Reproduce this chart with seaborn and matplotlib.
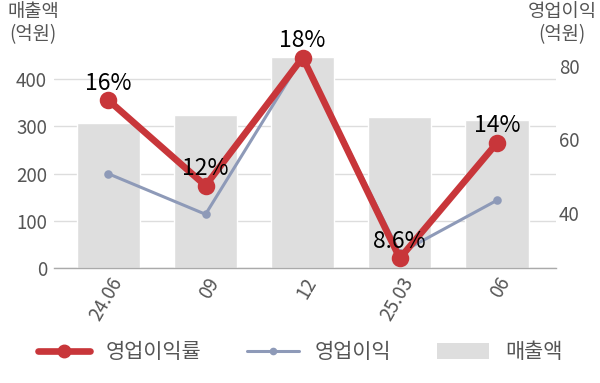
import numpy as np
import pandas as pd
import matplotlib
matplotlib.use("Agg")
import matplotlib.pyplot as plt
import seaborn as sns
from matplotlib.lines import Line2D
from matplotlib.patches import Patch

categories = ["24.06", "09", "12", "25.03", "06"]
sales = [308, 323, 447, 320, 313]            # 매출액 (억원)
op_income = [50.7, 39.7, 82.4, 29.2, 43.5]    # 영업이익 (억원)
op_margin = [16.0, 12.0, 18.0, 8.6, 14.0]     # 영업이익률 (%)
margin_labels = ["16%", "12%", "18%", "8.6%", "14%"]

sns.set_theme(style="white")
plt.rcParams["font.family"] = ["Noto Sans CJK KR", "DejaVu Sans"]

RED = "#c8363a"
BLUEGRAY = "#8e9ab8"
BAR = "#dedede"
TXT = "#555555"

df = pd.DataFrame({"cat": categories, "sales": sales,
                   "op": op_income, "margin": op_margin})

fig = plt.figure(figsize=(6.0, 3.83), dpi=100)
ax = fig.add_axes([0.09, 0.30, 0.837, 0.585])

sns.barplot(data=df, x="cat", y="sales", color=BAR, width=0.65,
            saturation=1, ax=ax, zorder=1)
ax.set_axisbelow(True)
ax.yaxis.grid(True, color="#dddddd", linewidth=1)
ax.set_ylim(0, 474)
ax.set_yticks([0, 100, 200, 300, 400])
ax.set_xlim(-0.56, 4.61)
ax.set_xlabel("")
ax.set_ylabel("")
for s in ["top", "right", "left"]:
    ax.spines[s].set_visible(False)
ax.spines["bottom"].set_color("#aaaaaa")
ax.spines["bottom"].set_linewidth(1)
ax.tick_params(axis="y", length=0, labelsize=13.5, labelcolor=TXT, pad=5)
ax.tick_params(axis="x", length=0, labelsize=13.5, labelcolor=TXT, pad=4)
for lab in ax.get_xticklabels():
    lab.set_rotation(60)
    lab.set_ha("right")
    lab.set_va("top")
    lab.set_rotation_mode("anchor")

ax2 = ax.twinx()
sns.pointplot(data=df, x="cat", y="op", color=BLUEGRAY, markers="o",
              ax=ax2, linewidth=2.2, markersize=4.5, zorder=3)
ax2.set_ylim(25.1, 85.9)
ax2.set_yticks([40, 60, 80])
ax2.set_xlim(-0.56, 4.61)
ax2.set_ylabel("")
ax2.set_xlabel("")
for s in ["top", "right", "left", "bottom"]:
    ax2.spines[s].set_visible(False)
ax2.tick_params(axis="y", length=0, labelsize=13.5, labelcolor=TXT, pad=2)
ax2.grid(False)
ax2.patch.set_visible(False)

ax3 = ax.twinx()
sns.pointplot(data=df, x="cat", y="margin", color=RED, markers="o",
              ax=ax3, linewidth=4.8, markersize=9, zorder=4)
ax3.set_ylim(8.14, 18.63)
ax3.set_xlim(-0.56, 4.61)
ax3.set_yticks([])
ax3.set_ylabel("")
ax3.set_xlabel("")
for s in ["top", "right", "left", "bottom"]:
    ax3.spines[s].set_visible(False)
ax3.patch.set_visible(False)
ax3.grid(False)
for i, (v, lab) in enumerate(zip(op_margin, margin_labels)):
    ax3.annotate(lab, (i, v), xytext=(0, 4), textcoords="offset points",
                 ha="center", va="bottom", fontsize=16.5, color="black",
                 zorder=5)

fig.text(0.055, 0.94, "매출액\n(억원)", ha="center", va="center",
         fontsize=13.5, color=TXT, linespacing=1.1)
fig.text(0.937, 0.94, "영업이익\n(억원)", ha="center", va="center",
         fontsize=13.5, color=TXT, linespacing=1.1)

handles = [
    Line2D([], [], color=RED, linewidth=4.8, marker="o", markersize=9),
    Line2D([], [], color=BLUEGRAY, linewidth=2.2, marker="o", markersize=4.5),
    Patch(facecolor=BAR, edgecolor="none"),
]
fig.legend(handles, ["영업이익률", "영업이익", "매출액"], loc="center",
           bbox_to_anchor=(0.5, 0.08), ncol=3, frameon=False,
           fontsize=15, handlelength=2.5, handleheight=0.8,
           columnspacing=2.2, handletextpad=0.75, labelcolor=TXT)

fig.savefig("out.png", dpi=100)
